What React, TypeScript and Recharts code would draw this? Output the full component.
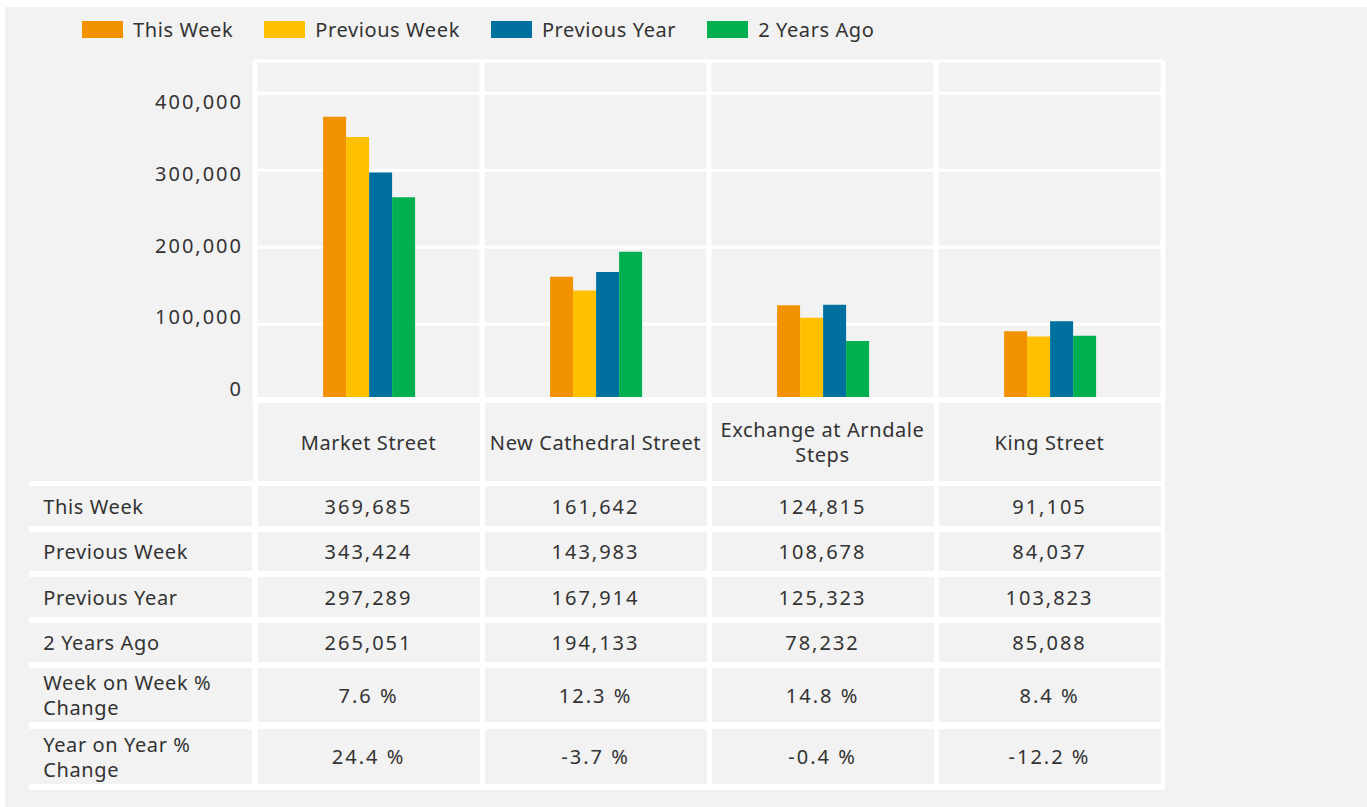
import { Bar, BarChart, CartesianGrid, XAxis, YAxis } from 'recharts'

// Footfall by location: four weekly comparisons, bars on top and a table below.
const categories = ['Market Street', 'New Cathedral Street', 'Exchange at Arndale Steps', 'King Street']
const thisWeek = [369685, 161642, 124815, 91105]
const previousWeek = [343424, 143983, 108678, 84037]
const previousYear = [297289, 167914, 125323, 103823]
const twoYearsAgo = [265051, 194133, 78232, 85088]
const weekOnWeek = [7.6, 12.3, 14.8, 8.4]
const yearOnYear = [24.4, -3.7, -0.4, -12.2]
const yTicks = [0, 100000, 200000, 300000, 400000]

const SERIES = [
	{ key: 'thisWeek', label: 'This Week', color: '#F39200', values: thisWeek },
	{ key: 'previousWeek', label: 'Previous Week', color: '#FFC000', values: previousWeek },
	{ key: 'previousYear', label: 'Previous Year', color: '#00709F', values: previousYear },
	{ key: 'twoYearsAgo', label: '2 Years Ago', color: '#00B050', values: twoYearsAgo }
]

const FONT = '"Noto Sans", sans-serif'
const TEXT = '#333333'
const BG = '#f2f2f2'
const TEXT_LS = 0.6
const NUM_LS = 2

// layout
const PLOT_LEFT = 255
const COL_W = 227
const GAP = 5
const ROW_TOPS = [486, 532, 577, 623, 668, 729]
const ROW_HEIGHTS = [40, 39, 40, 39, 54, 55]

const chartData = categories.map((name, i) => {
	const row: Record<string, string | number> = { name }
	SERIES.forEach((s) => {
		row[s.key] = s.values[i]
	})
	return row
})

const fmtNum = (v: number) => v.toLocaleString('en-US')
const fmtPct = (v: number) => `${v.toFixed(1)} %`

const tableRows = [
	{ label: 'This Week', cells: thisWeek.map(fmtNum) },
	{ label: 'Previous Week', cells: previousWeek.map(fmtNum) },
	{ label: 'Previous Year', cells: previousYear.map(fmtNum) },
	{ label: '2 Years Ago', cells: twoYearsAgo.map(fmtNum) },
	{ label: 'Week on Week % Change', cells: weekOnWeek.map(fmtPct) },
	{ label: 'Year on Year % Change', cells: yearOnYear.map(fmtPct) }
]

function YTick(props: any) {
	const { x, y, payload } = props
	// axis labels sit a little off the gridlines, drifting up toward zero
	const shift = -13 + (payload.value / 100000) * 5.35
	return (
		<text
			x={x}
			y={y + shift}
			textAnchor="end"
			dominantBaseline="central"
			fill={TEXT}
			fontFamily={FONT}
			fontSize={20}
			letterSpacing={NUM_LS}
		>
			{fmtNum(payload.value)}
		</text>
	)
}

const colLeft = (i: number) => PLOT_LEFT + COL_W * i + GAP / 2
const cellW = COL_W - GAP

export default function App() {
	return (
		<div
			style={{
				position: 'absolute',
				left: 0,
				top: 0,
				width: 1367,
				height: 807,
				background: '#fff',
				overflow: 'hidden',
				fontFamily: FONT,
				color: TEXT
			}}
		>
			<div style={{ position: 'absolute', left: 5, top: 7, right: 0, bottom: 0, background: BG }} />

			{/* legend */}
			<div
				style={{
					position: 'absolute',
					left: 82,
					top: 16,
					display: 'flex',
					alignItems: 'center',
					gap: 31,
					fontSize: 20,
					letterSpacing: TEXT_LS,
					whiteSpace: 'nowrap'
				}}
			>
				{SERIES.map((s) => (
					<div key={s.key} style={{ display: 'flex', alignItems: 'center' }}>
						<span style={{ width: 41, height: 17, background: s.color, marginRight: 10 }} />
						<span>{s.label}</span>
					</div>
				))}
			</div>

			<div style={{ position: 'absolute', left: 0, top: 0 }}>
				<BarChart
					width={1367}
					height={410}
					data={chartData}
					margin={{ top: 61, right: 1367 - PLOT_LEFT - COL_W * 4, bottom: 8.7, left: 0 }}
					barCategoryGap="30%"
					barGap={0}
				>
					<CartesianGrid vertical={false} stroke="#fff" strokeWidth={3} />
					<CartesianGrid
						horizontal={false}
						stroke="#fff"
						strokeWidth={5}
						verticalCoordinatesGenerator={({ offset }: any) =>
							[0, 1, 2, 3, 4].map((i) => offset.left + (offset.width / 4) * i)
						}
					/>
					<XAxis dataKey="name" hide />
					<YAxis
						width={PLOT_LEFT}
						domain={[0, 442000]}
						ticks={yTicks}
						interval={0}
						tick={<YTick />}
						axisLine={false}
						tickLine={false}
						tickMargin={6}
					/>
					{SERIES.map((s) => (
						<Bar key={s.key} dataKey={s.key} name={s.label} fill={s.color} isAnimationActive={false} />
					))}
				</BarChart>
			</div>

			{/* table backdrop (white gaps) */}
			<div style={{ position: 'absolute', left: 252.5, top: 397, width: 912.5, height: 92, background: '#fff' }} />
			<div style={{ position: 'absolute', left: 29.3, top: 481, width: 1135.7, height: 309, background: '#fff' }} />

			{/* header row */}
			{categories.map((c, i) => (
				<div
					key={c}
					style={{
						position: 'absolute',
						left: colLeft(i),
						top: 403,
						width: cellW,
						height: 78,
						background: BG,
						display: 'flex',
						alignItems: 'center',
						justifyContent: 'center',
						textAlign: 'center',
						fontSize: 20,
						lineHeight: '25px',
						letterSpacing: TEXT_LS,
						padding: '0 1px',
						boxSizing: 'border-box'
					}}
				>
					{c}
				</div>
			))}

			{/* data rows */}
			{tableRows.map((r, ri) => (
				<div key={r.label}>
					<div
						style={{
							position: 'absolute',
							left: 29.3,
							top: ROW_TOPS[ri],
							width: 252.5 - 29.3,
							height: ROW_HEIGHTS[ri],
							background: BG,
							display: 'flex',
							alignItems: 'center',
							padding: '0 20px 0 14px',
							boxSizing: 'border-box',
							fontSize: 20,
							lineHeight: '25px',
							letterSpacing: TEXT_LS
						}}
					>
						{r.label}
					</div>
					{r.cells.map((v, ci) => (
						<div
							key={ci}
							style={{
								position: 'absolute',
								left: colLeft(ci),
								top: ROW_TOPS[ri],
								width: cellW,
								height: ROW_HEIGHTS[ri],
								background: BG,
								display: 'flex',
								alignItems: 'center',
								justifyContent: 'center',
								fontSize: 20,
								letterSpacing: NUM_LS
							}}
						>
							{v}
						</div>
					))}
				</div>
			))}
		</div>
	)
}
